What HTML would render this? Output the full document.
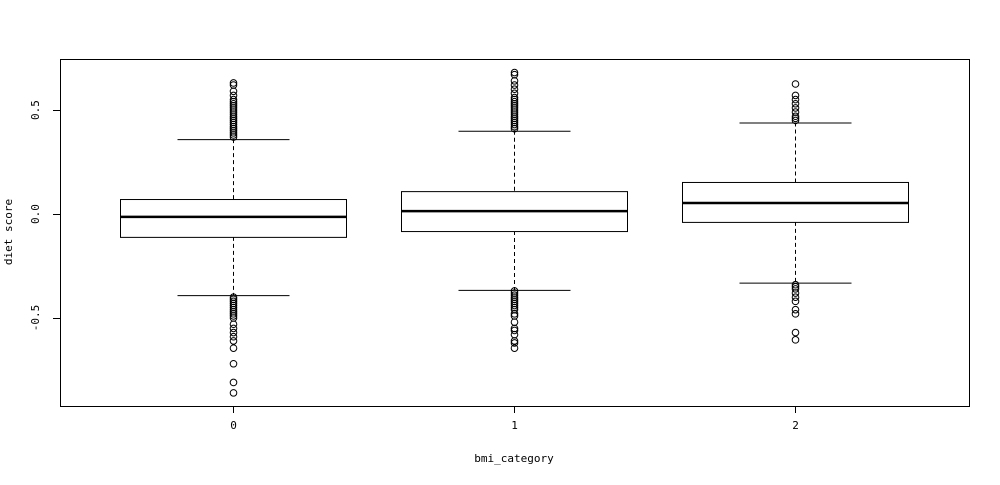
<!DOCTYPE html>
<html><head><meta charset="utf-8"><style>
body{margin:0;background:#fff}
svg text{font-family:"DejaVu Sans Mono","Liberation Mono",monospace;font-size:11px;fill:#000}
</style></head><body>
<svg id="chart" width="1000" height="480" xmlns="http://www.w3.org/2000/svg"></svg>
<script>
const categories = ["0","1","2"];
const whiskerLow = [-0.39, -0.365, -0.33];
const q1 = [-0.11, -0.082, -0.038];
const medians = [-0.014, 0.014, 0.053];
const q3 = [0.072, 0.11, 0.154];
const whiskerHigh = [0.36, 0.40, 0.44];
const outliers0 = [0.37,0.38,0.39,0.40,0.41,0.42,0.43,0.44,0.45,0.46,0.47,0.48,0.49,0.50,0.51,0.52,0.53,0.54,0.55,0.57,0.59,0.62,0.63,
  -0.40,-0.41,-0.42,-0.43,-0.44,-0.45,-0.46,-0.47,-0.48,-0.49,-0.50,-0.53,-0.55,-0.57,-0.59,-0.61,-0.645,-0.72,-0.81,-0.86];
const outliers1 = [0.41,0.42,0.43,0.44,0.45,0.46,0.47,0.48,0.49,0.50,0.51,0.52,0.53,0.54,0.55,0.56,0.58,0.60,0.62,0.64,0.67,0.68,
  -0.37,-0.38,-0.39,-0.40,-0.41,-0.42,-0.43,-0.44,-0.45,-0.46,-0.48,-0.49,-0.52,-0.55,-0.56,-0.58,-0.61,-0.62,-0.645];
const outliers2 = [0.45,0.46,0.47,0.49,0.51,0.53,0.55,0.57,0.625,
  -0.34,-0.35,-0.36,-0.38,-0.40,-0.42,-0.46,-0.48,-0.57,-0.605];
const outliers = [outliers0, outliers1, outliers2];
const yTicks = [-0.5, 0.0, 0.5];
const yTickLabels = ["-0.5","0.0","0.5"];

const svg = document.getElementById('chart');
const NS = "http://www.w3.org/2000/svg";
const L=60,R=969,T=59,B=406;
function y(v){return 214-208*v;}
function x(i){return 233+i*281;}
function el(tag,attrs,parent){const e=document.createElementNS(NS,tag);for(const k in attrs)e.setAttribute(k,attrs[k]);(parent||svg).appendChild(e);return e;}

const frame = el('rect',{x:L+0.5,y:T+0.5,width:R-L,height:B-T,fill:'none',stroke:'#000'});



yTicks.forEach((t,i)=>{
  const tk=el('line',{x1:L-7,x2:L,y1:y(t)+0.5,y2:y(t)+0.5,stroke:'#000'});
  
  
  const tx=el('text',{x:0,y:0,'text-anchor':'middle',transform:`translate(${L-21},${y(t)}) rotate(-90)`});
  tx.textContent=yTickLabels[i];
  
  
});

categories.forEach((c,i)=>{
  const cx=x(i)+0.5;
  const g=el('g',{});
  
  
  const tk=el('line',{x1:cx,x2:cx,y1:B+1,y2:B+7,stroke:'#000'},g);
  
  
  const tl=el('text',{x:cx,y:B+23,'text-anchor':'middle'},g);
  tl.textContent=c;
  
  
  const w1=el('line',{x1:cx,x2:cx,y1:y(whiskerHigh[i]),y2:y(q3[i]),stroke:'#000','stroke-dasharray':'4,3'},g);
  
  
  const w2=el('line',{x1:cx,x2:cx,y1:y(q1[i]),y2:y(whiskerLow[i]),stroke:'#000','stroke-dasharray':'4,3'},g);
  
  
  const c1=el('line',{x1:cx-56,x2:cx+56,y1:y(whiskerHigh[i])+0.5,y2:y(whiskerHigh[i])+0.5,stroke:'#000'},g);
  
  
  const c2=el('line',{x1:cx-56,x2:cx+56,y1:y(whiskerLow[i])+0.5,y2:y(whiskerLow[i])+0.5,stroke:'#000'},g);
  
  
  const bx=el('rect',{x:cx-113,y:y(q3[i])+0.5,width:226,height:y(q1[i])-y(q3[i]),fill:'#fff',stroke:'#000'},g);
  
  
  const md=el('line',{x1:cx-113,x2:cx+113,y1:y(medians[i]),y2:y(medians[i]),stroke:'#000','stroke-width':2.5},g);
  
  
  outliers[i].forEach(v=>{
    const p=el('circle',{cx:cx,cy:y(v),r:3.3,fill:'none',stroke:'#000'},g);
    
    
  });
});

const xt=el('text',{x:514,y:462,'text-anchor':'middle'});
xt.textContent='bmi_category';


const yt=el('text',{x:0,y:0,'text-anchor':'middle',transform:'translate(12,232) rotate(-90)'});
yt.textContent='diet score';


</script>
</body></html>
